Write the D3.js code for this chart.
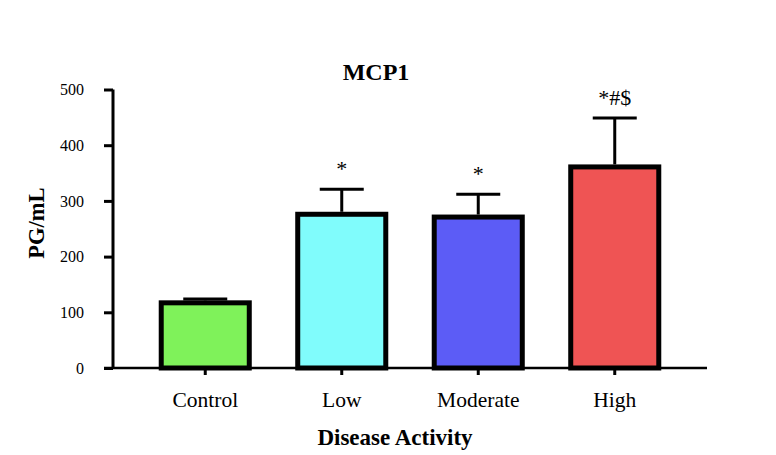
<!DOCTYPE html>
<html><head><meta charset="utf-8">
<script src="https://cdn.jsdelivr.net/npm/d3@7"></script>
<style>body{margin:0;background:#fff}svg{display:block}</style>
</head><body>
<svg id="c" width="776" height="455" font-family="Liberation Serif"></svg>
<script>
const categories = ["Control", "Low", "Moderate", "High"];
const means = [117, 276, 271, 361];
const errors = [7, 45, 41, 88];
const sigLabels = ["", "*", "*", "*#$"];
const colors = ["#7ff25a", "#80fcfc", "#5c5cf6", "#ef5454"];
const yTicks = [0, 100, 200, 300, 400, 500];

const FAM = "Liberation Serif";
const svg = d3.select("#c");
const y = d3.scaleLinear().domain([0, 500]).range([368, 89.5]);
const x = d3.scaleBand().domain(categories).range([137, 683]).paddingInner(0.355).paddingOuter(0.1775);

function serif(sel, size, bold) {
  sel.attr("font-family", FAM).attr("font-size", size).attr("fill", "#000")
     .style("font-family", FAM).style("font-size", size + "px").style("fill", "#000");
  if (bold) sel.attr("font-weight", "bold").style("font-weight", "bold");
  return sel;
}

// bars
svg.selectAll("rect.bar").data(categories).join("rect")
  .attr("x", d => x(d)).attr("width", x.bandwidth())
  .attr("y", (d, i) => y(means[i])).attr("height", (d, i) => y(0) - y(means[i]))
  .attr("fill", (d, i) => colors[i]).attr("stroke", "#000").attr("stroke-width", 5);

// error bars
const eb = svg.append("g").attr("stroke", "#000").attr("stroke-width", 3);
categories.forEach((c, i) => {
  const cx = x(c) + x.bandwidth() / 2;
  eb.append("line").attr("x1", cx).attr("x2", cx).attr("y1", y(means[i]) - 2.5).attr("y2", y(means[i] + errors[i]));
  eb.append("line").attr("x1", cx - 22).attr("x2", cx + 22).attr("y1", y(means[i] + errors[i])).attr("y2", y(means[i] + errors[i]));
  if (sigLabels[i]) {
    serif(svg.append("text").attr("x", cx).attr("y", y(means[i] + errors[i]) - 13)
      .attr("text-anchor", "middle"), 22).text(sigLabels[i]);
  }
});

// y axis
const yAxis = svg.append("g").attr("transform", "translate(113,0)")
  .call(d3.axisLeft(y).tickValues(yTicks).tickSize(9).tickPadding(20).tickFormat(d3.format("d")))
  .attr("font-family", FAM).attr("font-size", 16);
yAxis.select(".domain").attr("stroke-width", 3).attr("d", `M0,${y(500)}V${y(0)}`);
yAxis.selectAll(".tick line").attr("stroke-width", 3);
serif(yAxis.selectAll("text"), 16);

// x axis
const xAxis = svg.append("g").attr("transform", `translate(0,${y(0)})`)
  .call(d3.axisBottom(x).tickSize(7).tickPadding(17))
  .attr("font-family", FAM).attr("font-size", 21);
xAxis.select(".domain").attr("stroke-width", 2.5).attr("d", "M104,0H707");
xAxis.selectAll(".tick line").attr("stroke-width", 3);
serif(xAxis.selectAll("text"), 21.5);

// titles
serif(svg.append("text").attr("x", 376).attr("y", 80).attr("text-anchor", "middle"), 24, true).text("MCP1");
serif(svg.append("text").attr("x", 395).attr("y", 445).attr("text-anchor", "middle"), 23, true).text("Disease Activity");
serif(svg.append("text").attr("transform", "translate(44,223) rotate(-90)").attr("text-anchor", "middle"), 22.5, true).text("PG/mL");
</script>
</body></html>
